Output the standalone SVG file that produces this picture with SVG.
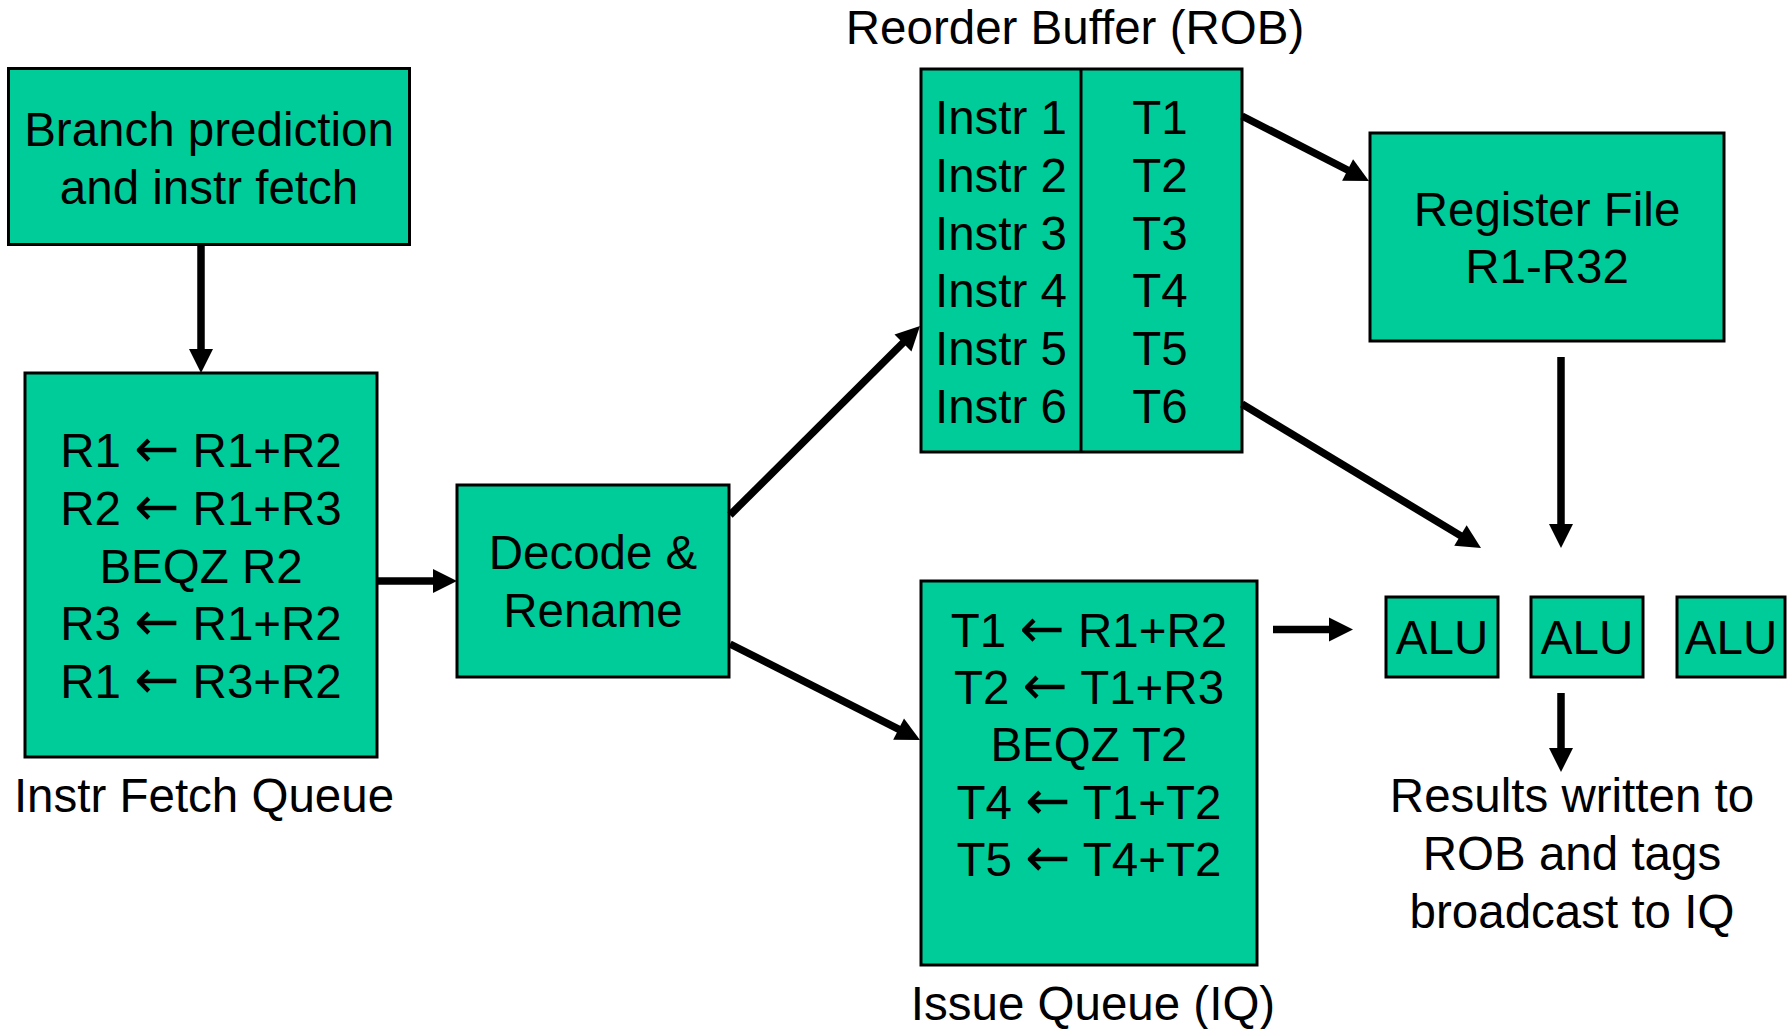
<svg xmlns="http://www.w3.org/2000/svg" width="1791" height="1029" viewBox="0 0 1791 1029">
  <style>
    .box { fill: #00CC99; stroke: #000; stroke-width: 3; }
    .div { stroke: #000; stroke-width: 3; }
    text { font-family: "Liberation Sans", Arial, sans-serif; font-size: 47.5px; fill: #000; text-anchor: middle; }
    .arw { font-family: "DejaVu Sans", sans-serif; font-size: 54px; }
    .conn { stroke: #000; stroke-width: 7.5; fill: none; marker-end: url(#head); }
  </style>
  <defs>
    <marker id="head" markerUnits="userSpaceOnUse" markerWidth="24" markerHeight="24" refX="1" refY="12" orient="auto" overflow="visible">
      <path d="M0,0 L24,12 L0,24 Z" fill="#000"/>
    </marker>
  </defs>
  <rect width="1791" height="1029" fill="#fff"/>

  <g id="branch-fetch">
    <rect class="box" x="8.5" y="68.5" width="401" height="176"/>
    <text x="209" y="146">Branch prediction</text>
    <text x="209" y="204">and instr fetch</text>
  </g>

  <g id="fetch-queue">
    <rect class="box" x="25" y="373" width="352" height="384"/>
    <text x="201" y="467">R1 <tspan class="arw">←</tspan> R1+R2</text>
    <text x="201" y="525">R2 <tspan class="arw">←</tspan> R1+R3</text>
    <text x="201" y="583">BEQZ R2</text>
    <text x="201" y="640">R3 <tspan class="arw">←</tspan> R1+R2</text>
    <text x="201" y="698">R1 <tspan class="arw">←</tspan> R3+R2</text>
    <text x="204" y="812">Instr Fetch Queue</text>
  </g>

  <g id="decode-rename">
    <rect class="box" x="457" y="485" width="272" height="192"/>
    <text x="593" y="569">Decode &amp;</text>
    <text x="593" y="627">Rename</text>
  </g>

  <g id="rob">
    <text x="1075" y="44">Reorder Buffer (ROB)</text>
    <rect class="box" x="921" y="69" width="321" height="383"/>
    <line class="div" x1="1081" y1="69" x2="1081" y2="452"/>
    <text x="1001" y="134">Instr 1</text>
    <text x="1001" y="192">Instr 2</text>
    <text x="1001" y="250">Instr 3</text>
    <text x="1001" y="307">Instr 4</text>
    <text x="1001" y="365">Instr 5</text>
    <text x="1001" y="423">Instr 6</text>
    <text x="1160" y="134">T1</text>
    <text x="1160" y="192">T2</text>
    <text x="1160" y="250">T3</text>
    <text x="1160" y="307">T4</text>
    <text x="1160" y="365">T5</text>
    <text x="1160" y="423">T6</text>
  </g>

  <g id="register-file">
    <rect class="box" x="1370" y="133" width="354" height="208"/>
    <text x="1547" y="226">Register File</text>
    <text x="1547" y="283">R1-R32</text>
  </g>

  <g id="issue-queue">
    <rect class="box" x="921" y="581" width="336" height="384"/>
    <text x="1089" y="647">T1 <tspan class="arw">←</tspan> R1+R2</text>
    <text x="1089" y="704">T2 <tspan class="arw">←</tspan> T1+R3</text>
    <text x="1089" y="761">BEQZ T2</text>
    <text x="1089" y="819">T4 <tspan class="arw">←</tspan> T1+T2</text>
    <text x="1089" y="876">T5 <tspan class="arw">←</tspan> T4+T2</text>
    <text x="1093" y="1020">Issue Queue (IQ)</text>
  </g>

  <g id="alu-1">
    <rect class="box" x="1386" y="597" width="112" height="80"/>
    <text x="1442" y="654">ALU</text>
  </g>
  <g id="alu-2">
    <rect class="box" x="1531" y="597" width="112" height="80"/>
    <text x="1587" y="654">ALU</text>
  </g>
  <g id="alu-3">
    <rect class="box" x="1677" y="597" width="108" height="80"/>
    <text x="1731" y="654">ALU</text>
  </g>

  <g id="results">
    <text x="1572" y="812">Results written to</text>
    <text x="1572" y="870">ROB and tags</text>
    <text x="1572" y="928">broadcast to IQ</text>
  </g>

  <g id="connectors">
    <line class="conn" x1="201" y1="245" x2="201" y2="350"/>
    <line class="conn" x1="377" y1="581" x2="434" y2="581"/>
    <line class="conn" x1="730" y1="515" x2="903.7" y2="342.2"/>
    <line class="conn" x1="730" y1="644" x2="899.5" y2="729.6"/>
    <line class="conn" x1="1242" y1="116" x2="1348.5" y2="170.5"/>
    <line class="conn" x1="1242" y1="404" x2="1461.3" y2="536.1"/>
    <line class="conn" x1="1561" y1="357" x2="1561" y2="525"/>
    <line class="conn" x1="1273" y1="629.5" x2="1330" y2="629.5"/>
    <line class="conn" x1="1561" y1="693" x2="1561" y2="749"/>
  </g>
</svg>
